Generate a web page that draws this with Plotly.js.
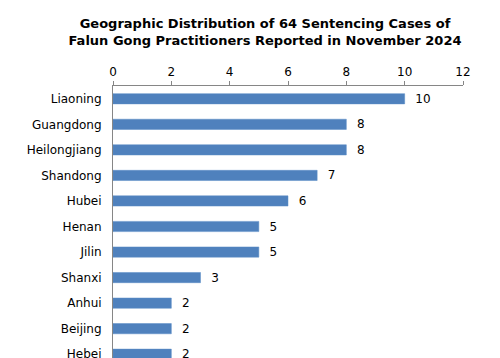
<!DOCTYPE html>
<html>
<head>
<meta charset="utf-8">
<script src="https://cdn.plot.ly/plotly-3.0.1.min.js"></script>
<style>
html,body{margin:0;padding:0;overflow:hidden;width:500px;height:358px;background:#fff;}
#chart{width:500px;height:380px;}
</style>
</head>
<body>
<div id="chart"></div>
<script>
const provinces = ["Liaoning","Guangdong","Heilongjiang","Shandong","Hubei","Henan","Jilin","Shanxi","Anhui","Beijing","Hebei"];
const cases = [10,8,8,7,6,5,5,3,2,2,2];
const tickValues = [0,2,4,6,8,10,12];
const chartTitle = "Geographic Distribution of 64 Sentencing Cases of<br>Falun Gong Practitioners Reported in November 2024";

const trace = {
  type: "bar",
  orientation: "h",
  y: provinces,
  x: cases,
  marker: {color: "#4F81BD", line: {color: "#5B8CC6", width: 0.5}},
  text: cases.map(String),
  texttemplate: "  %{x}",
  textposition: "outside",
  constraintext: "none",
  cliponaxis: false,
  textfont: {family: "DejaVu Sans", size: 12, color: "#000"},
  hoverinfo: "skip"
};

const layout = {
  width: 500,
  height: 380,
  margin: {l: 113, r: 37, t: 86, b: 13},
  paper_bgcolor: "#fff",
  plot_bgcolor: "#fff",
  bargap: 0.6,
  showlegend: false,
  title: {
    text: chartTitle,
    font: {family: "DejaVu Sans", size: 13, color: "#000", weight: "bold"},
    x: 0.53, xref: "container", xanchor: "center",
    y: 1 - 28/380, yref: "container", yanchor: "top"
  },
  xaxis: {
    side: "top",
    range: [0, 12],
    tickvals: tickValues,
    ticks: "outside",
    ticklen: 4,
    tickcolor: "#868686",
    showline: true,
    linecolor: "#868686",
    linewidth: 1,
    showgrid: false,
    zeroline: false,
    tickfont: {family: "DejaVu Sans", size: 12, color: "#000"}
  },
  yaxis: {
    type: "category",
    autorange: "reversed",
    showline: true,
    linecolor: "#868686",
    linewidth: 1,
    ticks: "",
    ticklabelstandoff: 8,
    showgrid: false,
    zeroline: false,
    tickfont: {family: "DejaVu Sans", size: 12, color: "#000"}
  }
};

Plotly.newPlot("chart", [trace], layout, {displayModeBar: false, staticPlot: true});
</script>
</body>
</html>
